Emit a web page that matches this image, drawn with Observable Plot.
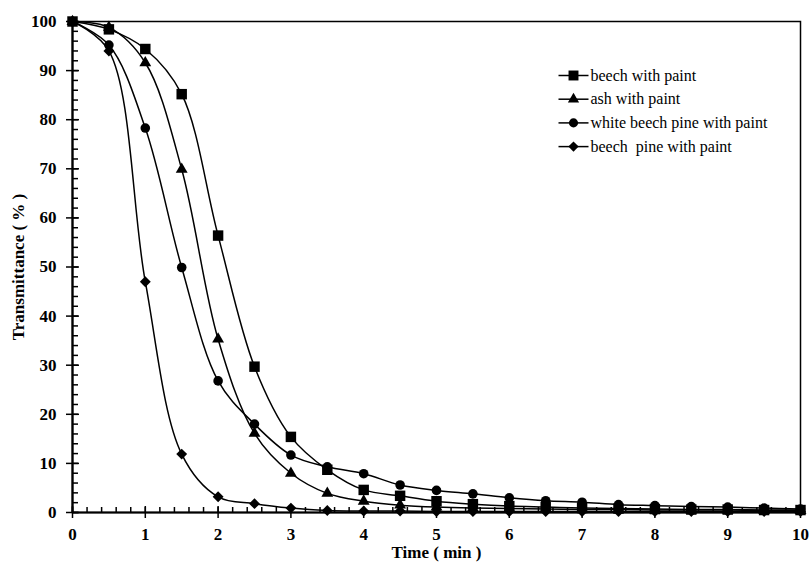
<!DOCTYPE html>
<html>
<head>
<meta charset="utf-8">
<script src="https://cdn.jsdelivr.net/npm/d3@7"></script>
<script src="https://cdn.jsdelivr.net/npm/@observablehq/plot@0.6"></script>
<style>
  html, body { margin: 0; padding: 0; background: #fff; }
  #chart svg text { font-family: "Liberation Serif", "Times New Roman", Tinos, "DejaVu Serif", serif !important; }
</style>
</head>
<body>
<div id="chart"></div>
<script>
// ---- data ----
const time = [0, 0.5, 1, 1.5, 2, 2.5, 3, 3.5, 4, 4.5, 5, 5.5, 6, 6.5, 7, 7.5, 8, 8.5, 9, 9.5, 10];
const seriesNames = ["beech with paint", "ash with paint", "white beech pine with paint", "beech  pine with paint"];
const beechPaint = [100, 98.4, 94.4, 85.2, 56.4, 29.7, 15.4, 8.7, 4.6, 3.4, 2.3, 1.7, 1.3, 1.1, 0.9, 0.8, 0.7, 0.6, 0.6, 0.5, 0.5];
const ashPaint = [100, 98.8, 91.6, 69.9, 35.3, 16.1, 8.0, 3.9, 2.3, 1.5, 1.1, 0.9, 0.8, 0.7, 0.6, 0.6, 0.5, 0.5, 0.5, 0.4, 0.4];
const whiteBeechPinePaint = [100, 95.2, 78.3, 49.9, 26.8, 18.0, 11.7, 9.3, 7.9, 5.6, 4.5, 3.8, 3.0, 2.4, 2.1, 1.6, 1.4, 1.2, 1.1, 0.9, 0.7];
const beechPinePaint = [100, 94.0, 47.0, 11.9, 3.2, 1.8, 0.9, 0.4, 0.3, 0.3, 0.2, 0.2, 0.2, 0.2, 0.2, 0.2, 0.2, 0.2, 0.2, 0.2, 0.2];
const xTicks = [0, 1, 2, 3, 4, 5, 6, 7, 8, 9, 10];
const yTicks = [0, 10, 20, 30, 40, 50, 60, 70, 80, 90, 100];
const xLabel = "Time ( min )";
const yLabel = "Transmittance ( % )";

// ---- styles ----
const values = [beechPaint, ashPaint, whiteBeechPinePaint, beechPinePaint];
const symbols = ["square", "triangle", "circle", "diamond2"];
const radii = [5.9, 4.4, 4.8, 4.9];
const serif = "'Liberation Serif', 'Times New Roman', Tinos, 'DejaVu Serif', serif";

const rows = [];
seriesNames.forEach((s, i) => time.forEach((t, j) => rows.push({series: s, time: t, value: values[i][j]})));

const xMinor = d3.range(0, 10.001, 0.2).map(v => +v.toFixed(1));
const yMinor = d3.range(0, 101, 2);
const lineSymbol = {draw(ctx) { ctx.moveTo(-15, 0); ctx.lineTo(15, 0); }};

const marks = [
  Plot.frame({stroke: "black", strokeWidth: 1.5}),
  // y axis
  Plot.axisY(yTicks, {tickSize: 6, tickPadding: 10, strokeWidth: 1.5, fontSize: 17, fontWeight: "bold", fontFamily: serif, label: null}),
  Plot.axisY(yTicks, {tickSize: -7, strokeWidth: 1.5, text: null, label: null}),
  Plot.axisY(yMinor, {tickSize: -6, strokeWidth: 1.5, text: null, label: null}),
  // x axis
  Plot.axisX(xTicks, {tickSize: 6, tickPadding: 9, strokeWidth: 1.5, fontSize: 17, fontWeight: "bold", fontFamily: serif, label: null}),
  Plot.axisX(xTicks, {tickSize: -6, strokeWidth: 1.5, text: null, label: null}),
  Plot.axisX(xMinor, {tickSize: -5, strokeWidth: 1.5, text: null, label: null}),
  Plot.ruleY([0], {stroke: "black", strokeWidth: 2.2}),
  Plot.ruleX([0], {stroke: "black", strokeWidth: 2.2}),
  // axis labels
  Plot.text([xLabel], {frameAnchor: "bottom", dy: 40, lineAnchor: "middle", textAnchor: "middle", fontSize: 17, fontWeight: "bold", fontFamily: serif, fill: "black"}),
  Plot.text([yLabel], {frameAnchor: "left", dx: -54, rotate: -90, lineAnchor: "middle", textAnchor: "middle", fontSize: 17, fontWeight: "bold", fontFamily: serif, fill: "black"}),
  // data
  Plot.line(rows, {x: "time", y: "value", z: "series", curve: "catmull-rom", stroke: "black", strokeWidth: 1.5})
];
seriesNames.forEach((s, i) => {
  marks.push(Plot.dot(rows.filter(d => d.series === s), {x: "time", y: "value", symbol: symbols[i], r: radii[i], fill: "black", stroke: "none"}));
});
// legend
seriesNames.forEach((s, i) => {
  const dy = 54 + i * 23.7;
  marks.push(Plot.dot([s], {frameAnchor: "top-left", dx: 501, dy, symbol: lineSymbol, r: 5, stroke: "black", fill: "none", strokeWidth: 1.5}));
  marks.push(Plot.dot([s], {frameAnchor: "top-left", dx: 501, dy, symbol: symbols[i], r: radii[i] * 0.95, fill: "black", stroke: "none"}));
  marks.push(Plot.text([s], {frameAnchor: "top-left", dx: 518, dy, text: d => d, textAnchor: "start", lineAnchor: "middle", fontSize: 16, fontWeight: "normal", fontFamily: serif, fill: "black"}));
});

const chart = Plot.plot({
  width: 810,
  height: 562,
  marginLeft: 72,
  marginRight: 10,
  marginTop: 21,
  marginBottom: 50,
  style: {fontFamily: serif, color: "black", background: "white", overflow: "visible"},
  x: {domain: [0, 10], label: null},
  y: {domain: [0, 100], label: null},
  marks
});
document.getElementById("chart").appendChild(chart);
</script>
</body>
</html>
